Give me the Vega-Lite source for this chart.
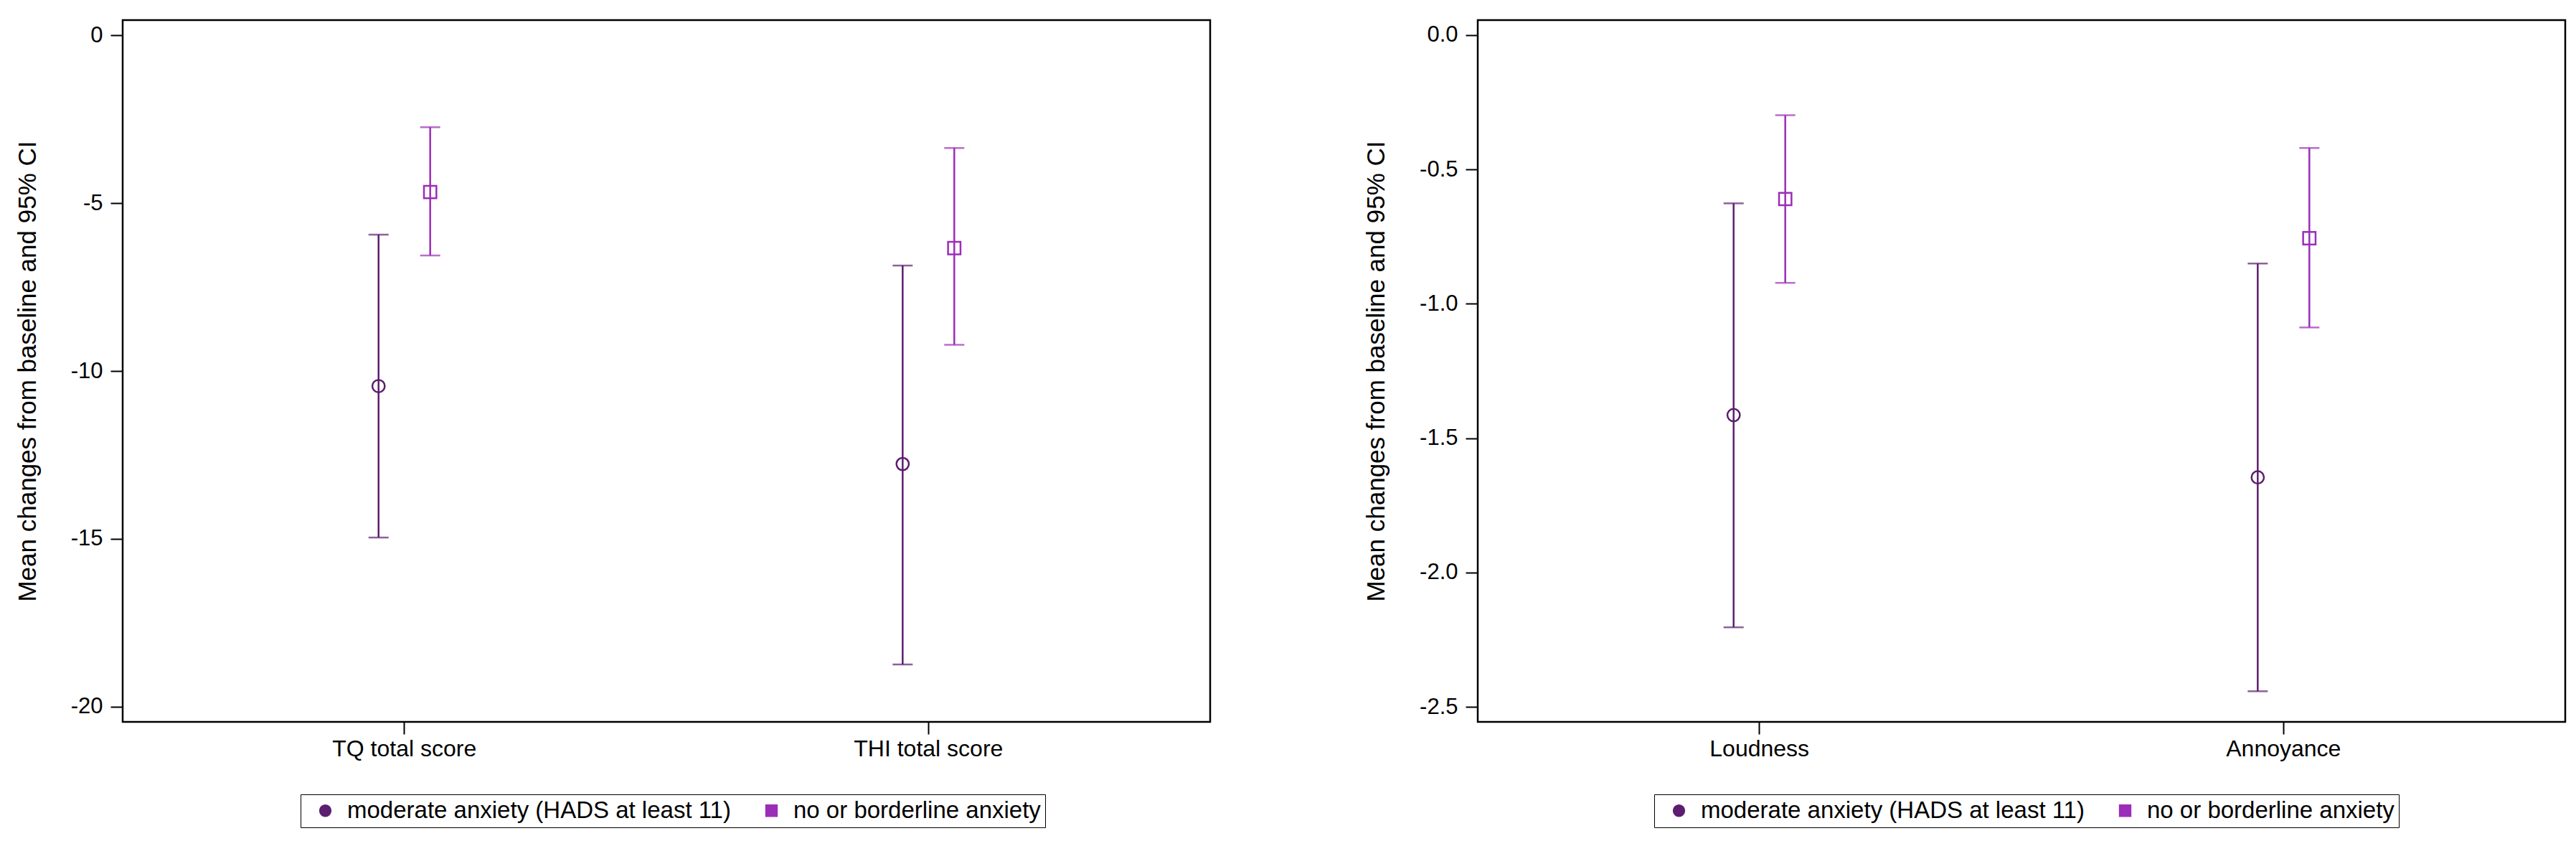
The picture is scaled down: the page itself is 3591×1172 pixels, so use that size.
{
  "$schema": "https://vega.github.io/schema/vega-lite/v6.json",
  "background": "white",
  "padding": {"left": 19, "top": 26, "right": 0, "bottom": 0},
  "spacing": 211,
  "config": {
    "view": {"stroke": "black", "strokeWidth": 2.5},
    "font": "Liberation Sans",
    "axis": {
      "labelFont": "Liberation Sans", "labelFontSize": 31, "labelColor": "black", "labelLimit": 0,
      "tickColor": "black", "tickWidth": 2, "tickSize": 17, "labelPadding": 11,
      "domain": false, "grid": false,
      "titleFont": "Liberation Sans", "titleFontSize": 35, "titleFontWeight": "normal", "titleColor": "black"
    },
    "legend": {
      "labelFont": "Liberation Sans", "labelFontSize": 33, "labelColor": "black", "labelLimit": 0,
      "strokeColor": "black", "padding": 6, "symbolSize": 220, "symbolStrokeWidth": 2.5,
      "symbolOffset": 12, "labelOffset": 14, "columnPadding": 28
    }
  },
  "datasets": {
    "left": [
      {"measure": "TQ total score", "group": "moderate anxiety (HADS at least 11)", "mean": -10.45, "lo": -14.96, "hi": -5.94},
      {"measure": "TQ total score", "group": "no or borderline anxiety", "mean": -4.67, "lo": -6.56, "hi": -2.74},
      {"measure": "THI total score", "group": "moderate anxiety (HADS at least 11)", "mean": -12.77, "lo": -18.74, "hi": -6.86},
      {"measure": "THI total score", "group": "no or borderline anxiety", "mean": -6.34, "lo": -9.22, "hi": -3.36}
    ],
    "right": [
      {"measure": "Loudness", "group": "moderate anxiety (HADS at least 11)", "mean": -1.414, "lo": -2.204, "hi": -0.626},
      {"measure": "Loudness", "group": "no or borderline anxiety", "mean": -0.61, "lo": -0.922, "hi": -0.298},
      {"measure": "Annoyance", "group": "moderate anxiety (HADS at least 11)", "mean": -1.646, "lo": -2.442, "hi": -0.85},
      {"measure": "Annoyance", "group": "no or borderline anxiety", "mean": -0.756, "lo": -1.088, "hi": -0.42}
    ]
  },
  "resolve": {
    "scale": {"x": "independent", "y": "independent", "xOffset": "independent", "color": "independent", "shape": "independent"},
    "legend": {"color": "independent", "shape": "independent"}
  },
  "hconcat": [
    {
      "width": 1516, "height": 978,
      "data": {"name": "left"},
      "encoding": {
        "x": {"field": "measure", "type": "nominal", "sort": ["TQ total score", "THI total score"],
              "scale": {"paddingInner": 0.803, "paddingOuter": 0.439},
              "axis": {"title": null, "labelAngle": 0, "labelPadding": 5, "labelFontSize": 32}},
        "xOffset": {"field": "group", "type": "nominal", "sort": ["moderate anxiety (HADS at least 11)", "no or borderline anxiety"],
                    "scale": {"paddingInner": 0, "paddingOuter": 0}},
        "color": {"field": "group", "type": "nominal",
                  "scale": {"domain": ["moderate anxiety (HADS at least 11)", "no or borderline anxiety"], "range": ["#5c1e6e", "#9c2db8"]},
                  "legend": {"title": null, "orient": "none", "legendX": 248, "legendY": 1079, "direction": "horizontal"}}
      },
      "layer": [
        {"mark": {"type": "point", "filled": false, "size": 300, "strokeWidth": 2.5, "opacity": 1},
         "encoding": {
           "y": {"field": "mean", "type": "quantitative",
                 "scale": {"domain": [-20.45, 0.45], "nice": false, "zero": false},
                 "axis": {"title": "Mean changes from baseline and 95% CI", "values": [0, -5, -10, -15, -20], "titlePadding": 42,
                          "labelExpr": "datum.value < 0 ? '-' + format(-datum.value, 'd') : format(datum.value, 'd')"}},
           "shape": {"field": "group", "type": "nominal",
                     "scale": {"domain": ["moderate anxiety (HADS at least 11)", "no or borderline anxiety"], "range": ["circle", "square"]},
                     "legend": {"title": null, "orient": "none", "legendX": 248, "legendY": 1079, "direction": "horizontal"}}}},
        {"mark": {"type": "rule", "strokeWidth": 2.5},
         "encoding": {"y": {"field": "lo", "type": "quantitative"}, "y2": {"field": "hi"}}},
        {"mark": {"type": "tick", "size": 28, "thickness": 2.5},
         "encoding": {"y": {"field": "lo", "type": "quantitative"}}},
        {"mark": {"type": "tick", "size": 28, "thickness": 2.5},
         "encoding": {"y": {"field": "hi", "type": "quantitative"}}}
      ]
    },
    {
      "width": 1516, "height": 978,
      "data": {"name": "right"},
      "encoding": {
        "x": {"field": "measure", "type": "nominal", "sort": ["Loudness", "Annoyance"],
              "scale": {"paddingInner": 0.803, "paddingOuter": 0.439},
              "axis": {"title": null, "labelAngle": 0, "labelPadding": 5, "labelFontSize": 32}},
        "xOffset": {"field": "group", "type": "nominal", "sort": ["moderate anxiety (HADS at least 11)", "no or borderline anxiety"],
                    "scale": {"paddingInner": 0, "paddingOuter": 0}},
        "color": {"field": "group", "type": "nominal",
                  "scale": {"domain": ["moderate anxiety (HADS at least 11)", "no or borderline anxiety"], "range": ["#5c1e6e", "#9c2db8"]},
                  "legend": {"title": null, "orient": "none", "legendX": 246, "legendY": 1079, "direction": "horizontal"}}
      },
      "layer": [
        {"mark": {"type": "point", "filled": false, "size": 300, "strokeWidth": 2.5, "opacity": 1},
         "encoding": {
           "y": {"field": "mean", "type": "quantitative",
                 "scale": {"domain": [-2.556, 0.056], "nice": false, "zero": false},
                 "axis": {"title": "Mean changes from baseline and 95% CI", "values": [0, -0.5, -1, -1.5, -2, -2.5], "titlePadding": 42,
                          "labelExpr": "datum.value < 0 ? '-' + format(-datum.value, '.1f') : format(datum.value, '.1f')"}},
           "shape": {"field": "group", "type": "nominal",
                     "scale": {"domain": ["moderate anxiety (HADS at least 11)", "no or borderline anxiety"], "range": ["circle", "square"]},
                     "legend": {"title": null, "orient": "none", "legendX": 246, "legendY": 1079, "direction": "horizontal"}}}},
        {"mark": {"type": "rule", "strokeWidth": 2.5},
         "encoding": {"y": {"field": "lo", "type": "quantitative"}, "y2": {"field": "hi"}}},
        {"mark": {"type": "tick", "size": 28, "thickness": 2.5},
         "encoding": {"y": {"field": "lo", "type": "quantitative"}}},
        {"mark": {"type": "tick", "size": 28, "thickness": 2.5},
         "encoding": {"y": {"field": "hi", "type": "quantitative"}}}
      ]
    }
  ]
}
